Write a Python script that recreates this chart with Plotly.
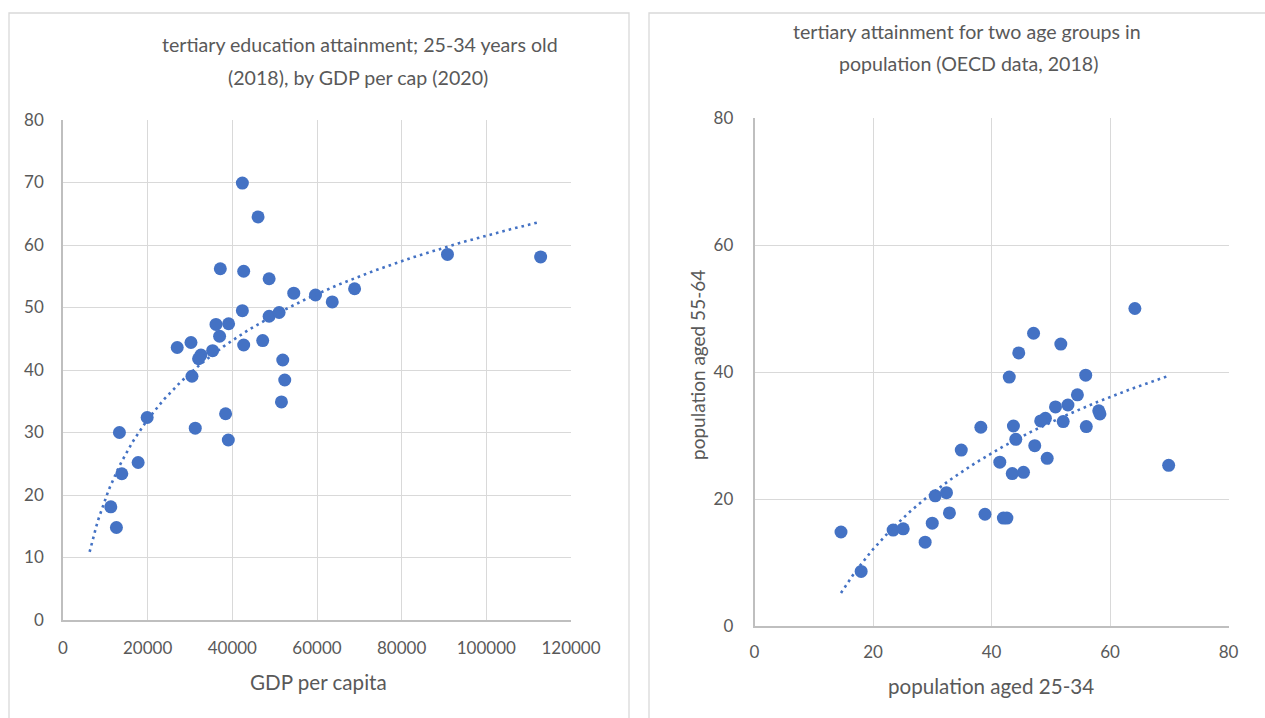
import numpy as np
import plotly.graph_objects as go

# --- data -------------------------------------------------------------
# Left chart: GDP per capita (2020) vs tertiary attainment of 25-34 year olds (2018, %)
gdp_per_capita = [42370, 46080, 37160, 42680, 48690, 54510, 59650, 63600, 68880,
                  90820, 112830, 42370, 48690, 51050, 36140, 39120, 36990, 42680,
                  47170, 26980, 30230, 35340, 32590, 32020, 51910, 52380, 30460,
                  51600, 38410, 19880, 31240, 13330, 39050, 17750, 13890, 11290, 12620]
attain_25_34 = [69.9, 64.5, 56.2, 55.8, 54.6, 52.3, 52.0, 50.9, 53.0,
                58.5, 58.1, 49.5, 48.6, 49.2, 47.3, 47.4, 45.4, 44.0,
                44.7, 43.6, 44.4, 43.1, 42.4, 41.8, 41.6, 38.4, 39.0,
                34.9, 33.0, 32.4, 30.7, 30.0, 28.8, 25.2, 23.4, 18.1, 14.8]

# Right chart: attainment of 25-34 year olds vs 55-64 year olds (%)
pop_25_34 = [64.2, 47.1, 51.7, 44.6, 43.0, 55.9, 54.5, 52.9, 50.8, 58.1, 58.3,
             49.1, 48.3, 52.1, 43.7, 38.2, 56.0, 44.1, 47.3, 49.4, 34.9, 41.4,
             43.5, 45.4, 69.9, 30.5, 32.4, 32.9, 38.9, 42.0, 42.6, 30.0, 23.4,
             25.1, 28.8, 14.6, 18.0]
pop_55_64 = [50.0, 46.1, 44.4, 43.0, 39.2, 39.5, 36.4, 34.8, 34.5, 33.9, 33.4,
             32.7, 32.3, 32.2, 31.5, 31.3, 31.4, 29.4, 28.4, 26.4, 27.7, 25.8,
             24.0, 24.2, 25.3, 20.5, 21.0, 17.8, 17.6, 17.0, 17.0, 16.2, 15.1,
             15.3, 13.2, 14.8, 8.6]

left_x_ticks = [0, 20000, 40000, 60000, 80000, 100000, 120000]
left_y_ticks = [0, 10, 20, 30, 40, 50, 60, 70, 80]
right_ticks = [0, 20, 40, 60, 80]

# trendline reach below the smallest GDP value (backward forecast)
left_backcast = 5000

# --- styling ------------------------------------------------------------
W, H = 1265, 718
BLUE = "#4472C4"
TEXT = "#595959"
GRID = "#d9d9d9"
AXIS = "#bfbfbf"
FONT = "Lato, 'Open Sans', sans-serif"


def px_x(p):
    return p / W


def px_y(p):
    return 1 - p / H


def log_fit(x, y):
    x = np.asarray(x, float)
    a, b = np.polyfit(np.log(x), np.asarray(y, float), 1)
    return a, b


fig = go.Figure()

fig.add_trace(go.Scatter(
    x=gdp_per_capita, y=attain_25_34, mode="markers",
    marker=dict(color=BLUE, size=13, line=dict(width=0)),
    xaxis="x", yaxis="y", showlegend=False, hoverinfo="x+y"))

a1, b1 = log_fit(gdp_per_capita, attain_25_34)
tx1 = np.linspace(min(gdp_per_capita) - left_backcast, max(gdp_per_capita), 200)
fig.add_trace(go.Scatter(
    x=tx1, y=a1 * np.log(tx1) + b1, mode="lines",
    line=dict(color=BLUE, width=2.6, dash="2.6px,4px"),
    xaxis="x", yaxis="y", showlegend=False, hoverinfo="skip"))

fig.add_trace(go.Scatter(
    x=pop_25_34, y=pop_55_64, mode="markers",
    marker=dict(color=BLUE, size=13, line=dict(width=0)),
    xaxis="x2", yaxis="y2", showlegend=False, hoverinfo="x+y"))

a2, b2 = log_fit(pop_25_34, pop_55_64)
tx2 = np.linspace(min(pop_25_34), max(pop_25_34), 200)
fig.add_trace(go.Scatter(
    x=tx2, y=a2 * np.log(tx2) + b2, mode="lines",
    line=dict(color=BLUE, width=2.6, dash="2.6px,4px"),
    xaxis="x2", yaxis="y2", showlegend=False, hoverinfo="skip"))

axis_common = dict(
    showgrid=True, gridcolor=GRID, gridwidth=1.3,
    showline=True, linecolor=AXIS, linewidth=1.5,
    zeroline=False, ticks="", fixedrange=True, automargin=False,
    tickfont=dict(family=FONT, size=17, color=TEXT),
)

fig.update_layout(
    width=W, height=H,
    margin=dict(l=0, r=0, t=0, b=0, pad=0),
    paper_bgcolor="white", plot_bgcolor="white",
    font=dict(family=FONT, color=TEXT),
    xaxis=dict(axis_common, domain=[px_x(63), px_x(571)], range=[0, 120000],
               tickvals=left_x_ticks, ticktext=[str(v) for v in left_x_ticks],
               anchor="y", ticklabelstandoff=12),
    yaxis=dict(axis_common, domain=[px_y(620), px_y(120)], range=[0, 80],
               tickvals=left_y_ticks, anchor="x", ticklabelstandoff=14),
    xaxis2=dict(axis_common, domain=[px_x(754.5), px_x(1228.5)], range=[0, 80],
                tickvals=right_ticks, anchor="y2", ticklabelstandoff=10),
    yaxis2=dict(axis_common, domain=[px_y(626), px_y(118)], range=[0, 80],
                tickvals=right_ticks, anchor="x2", ticklabelstandoff=16),
)

# chart frames
fig.add_shape(type="rect", xref="paper", yref="paper",
              x0=px_x(9), x1=px_x(629), y0=px_y(730), y1=px_y(13),
              line=dict(color=GRID, width=1.3), fillcolor="rgba(0,0,0,0)", layer="below")
fig.add_shape(type="rect", xref="paper", yref="paper",
              x0=px_x(649), x1=px_x(1275), y0=px_y(730), y1=px_y(13),
              line=dict(color=GRID, width=1.3), fillcolor="rgba(0,0,0,0)", layer="below")


def label(text, x, y, size, angle=0):
    fig.add_annotation(text=text, xref="paper", yref="paper",
                       x=px_x(x), y=px_y(y), xanchor="center", yanchor="middle",
                       showarrow=False, textangle=angle,
                       font=dict(family=FONT, size=size, color=TEXT))


# titles
label("tertiary education attainment; 25-34 years old", 360, 45, 19.6)
label("(2018), by GDP per cap (2020)", 358, 77, 19.6)
label("tertiary attainment for two age groups in", 967, 31, 19.6)
label("population (OECD data, 2018)", 968, 63, 19.6)

# axis titles
label("GDP per capita", 318, 682, 20.6)
label("population aged 25-34", 991, 686, 20.6)
label("population aged 55-64", 697, 365, 19, angle=-90)

# let the figure sit flush in the page without scrollbars
page_css = ("document.body.style.margin='0';"
            "document.body.style.overflow='hidden';"
            "document.documentElement.style.overflow='hidden';")

fig.write_html("out.html", post_script=page_css)
